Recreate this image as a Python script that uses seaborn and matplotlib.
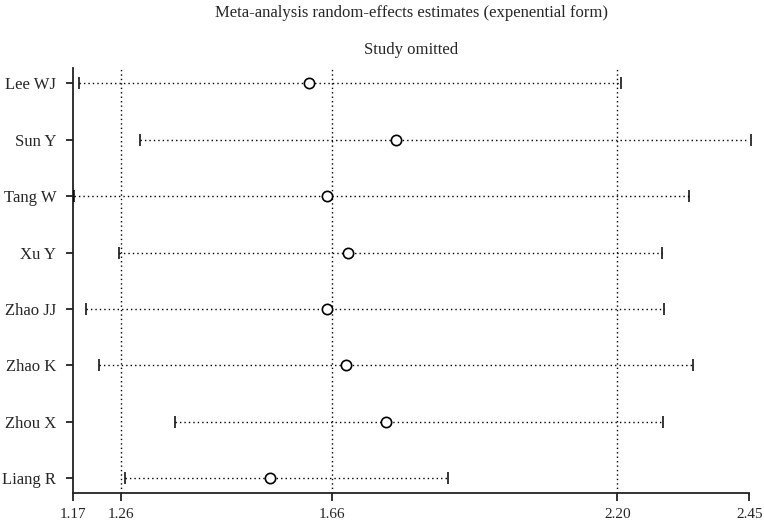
import numpy as np
import pandas as pd
import matplotlib
matplotlib.use("Agg")
import matplotlib.pyplot as plt
import seaborn as sns

# --- dados ---
estudos = ["Lee WJ", "Sun Y", "Tang W", "Xu Y", "Zhao JJ", "Zhao K", "Zhou X", "Liang R"]
estimativa = [1.617, 1.782, 1.651, 1.691, 1.651, 1.687, 1.763, 1.542]
limite_inf = [1.181, 1.296, 1.172, 1.257, 1.195, 1.219, 1.363, 1.268]
limite_sup = [2.206, 2.452, 2.335, 2.284, 2.289, 2.344, 2.287, 1.880]

# estimativa combinada (IC inferior, ponto, IC superior)
combinado = [1.26, 1.66, 2.20]
ticks_x = [1.17, 1.26, 1.66, 2.20, 2.45]
rotulos_x = ["1.17", "1.26", "1.66", "2.20", "2.45"]

df = pd.DataFrame({"estudo": estudos, "est": estimativa,
                   "inf": limite_inf, "sup": limite_sup})
df["pos"] = np.arange(len(df))

sns.set_theme(style="ticks")
plt.rcParams["font.family"] = ["Liberation Serif", "DejaVu Serif"]

fig = plt.figure(figsize=(7.64, 5.24), dpi=100)
ax = fig.add_axes([0.0955, 0.0592, 0.8855, 0.8110])

for v in combinado:
    ax.axvline(v, color="black", lw=1.0, ls=(0, (1, 2.2)), zorder=1)

ax.hlines(df["pos"], df["inf"], df["sup"], color="black", lw=1.0,
          linestyles=(0, (1, 2.2)), zorder=2)

caps = pd.concat([df[["pos", "inf"]].rename(columns={"inf": "x"}),
                  df[["pos", "sup"]].rename(columns={"sup": "x"})])
sns.scatterplot(data=caps, x="x", y="pos", marker="|", s=80, color="black",
                linewidth=1.1, ax=ax, zorder=3, clip_on=False)
sns.scatterplot(data=df, x="est", y="pos", marker="o", s=55, facecolor="white",
                edgecolor="black", linewidth=1.2, ax=ax, zorder=4)

ax.set_xlim(1.17, 2.45)
ax.set_ylim(len(df) - 1 + 0.26, -0.27)
ax.set_xticks(ticks_x)
ax.set_xticklabels(rotulos_x)
ax.set_yticks(df["pos"])
ax.set_yticklabels(estudos)
ax.set_xlabel("")
ax.set_ylabel("")

for s in ["top", "right"]:
    ax.spines[s].set_visible(False)
for s in ["left", "bottom"]:
    ax.spines[s].set_color("#222222")
    ax.spines[s].set_linewidth(1.3)

ax.tick_params(axis="x", length=6, width=1.3, pad=5, labelsize=11, color="#222222")
ax.tick_params(axis="y", length=5, width=1.3, pad=7, labelsize=12, color="#222222")

ax.set_title("Study omitted", fontsize=12, pad=10)
fig.text(0.0955 + 0.8855 / 2, 1 - 13 / 524, "Meta-analysis random-effects estimates (expenential form)",
         ha="center", va="center", fontsize=12)

fig.savefig("out.png", dpi=100)
